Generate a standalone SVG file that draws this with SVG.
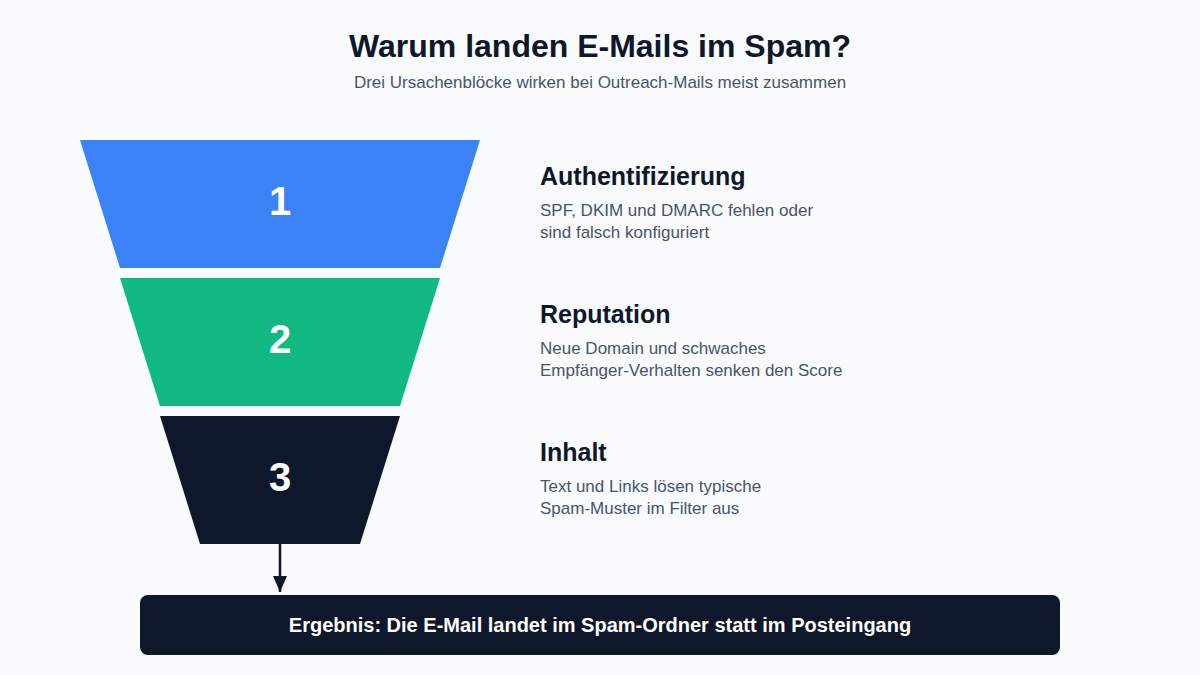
<svg xmlns="http://www.w3.org/2000/svg" width="1200" height="675" viewBox="0 0 1200 675">
<defs>
<style>
text{font-family:"Liberation Sans",Arial,sans-serif}
.title{font-size:32px;font-weight:bold;fill:#0f172a}
.sub{font-size:17px;fill:#475569}
.num{font-size:40px;font-weight:bold;fill:#ffffff}
.h{font-size:25px;font-weight:bold;fill:#0f172a}
.d{font-size:17px;fill:#475569}
.res{font-size:20px;font-weight:bold;fill:#ffffff}
</style>
<marker id="arr" viewBox="0 0 16 14" refX="16" refY="7" markerWidth="16" markerHeight="14" markerUnits="userSpaceOnUse" orient="auto">
<path d="M0,0 L16,7 L0,14 z" fill="#0f172a"/>
</marker>
</defs>
<rect width="1200" height="675" fill="#f8fafc"/>
<text class="title" x="600" y="57" text-anchor="middle">Warum landen E-Mails im Spam?</text>
<text class="sub" x="600" y="88" text-anchor="middle">Drei Ursachenblöcke wirken bei Outreach-Mails meist zusammen</text>
<g id="stage1">
<polygon points="80,140 480,140 440,268 120,268" fill="#3b82f6"/>
<text class="num" x="280" y="215" text-anchor="middle">1</text>
<text class="h" x="540" y="185">Authentifizierung</text>
<text class="d" x="540" y="216">SPF, DKIM und DMARC fehlen oder</text>
<text class="d" x="540" y="238">sind falsch konfiguriert</text>
</g>
<g id="stage2">
<polygon points="120,278 440,278 400,406 160,406" fill="#10b981"/>
<text class="num" x="280" y="353" text-anchor="middle">2</text>
<text class="h" x="540" y="323">Reputation</text>
<text class="d" x="540" y="354">Neue Domain und schwaches</text>
<text class="d" x="540" y="376">Empfänger-Verhalten senken den Score</text>
</g>
<g id="stage3">
<polygon points="160,416 400,416 360,544 200,544" fill="#0f172a"/>
<text class="num" x="280" y="491" text-anchor="middle">3</text>
<text class="h" x="540" y="461">Inhalt</text>
<text class="d" x="540" y="492">Text und Links lösen typische</text>
<text class="d" x="540" y="514">Spam-Muster im Filter aus</text>
</g>
<g id="connectors">
<line x1="280" y1="544" x2="280" y2="592" stroke="#0f172a" stroke-width="2.5" marker-end="url(#arr)"/>
</g>
<g id="result">
<rect x="140" y="595" width="920" height="60" rx="8" fill="#0f172a"/>
<text class="res" x="600" y="632" text-anchor="middle">Ergebnis: Die E-Mail landet im Spam-Ordner statt im Posteingang</text>
</g>
</svg>
